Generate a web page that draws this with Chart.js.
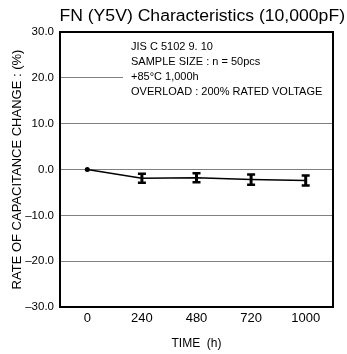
<!DOCTYPE html>
<html>
<head>
<meta charset="utf-8">
<script src="https://cdn.jsdelivr.net/npm/chart.js@4/dist/chart.umd.min.js"></script>
<style>
html,body{margin:0;padding:0;background:#fff;}
#wrap{width:347px;height:354px;position:relative;}
</style>
</head>
<body>
<div id="wrap"><canvas id="c"></canvas></div>
<script>
const categories = ['0', '240', '480', '720', '1000'];
const values = [0, -1.9, -1.8, -2.2, -2.4];
const errors = [0, 1.0, 1.0, 1.1, 1.1];
const yTicks = [-30, -20, -10, 0, 10, 20, 30];
const titleText = 'FN (Y5V) Characteristics (10,000pF)';
const noteLines = ['JIS C 5102 9. 10', 'SAMPLE SIZE : n = 50pcs', '+85\u00B0C 1,000h', 'OVERLOAD : 200% RATED VOLTAGE'];
const FONT = '"Liberation Sans", Arial, sans-serif';

const boxPlugin = {
  id: 'boxPlugin',
  afterDraw(chart) {
    const ctx = chart.ctx;
    ctx.save();
    ctx.fillStyle = '#000';
    ctx.font = '16px ' + FONT;
    ctx.textBaseline = 'alphabetic';
    ctx.textAlign = 'right';
    ctx.translate(345, 21);
    ctx.scale(1.1, 1);
    ctx.fillText(titleText, 0, 0);
    ctx.restore();
  },
  beforeDatasetsDraw(chart) {
    const ctx = chart.ctx, a = chart.chartArea;
    ctx.save();
    ctx.fillStyle = '#fff';
    ctx.fillRect(123, a.top + 1, a.right - 124, 78);
    ctx.fillStyle = '#000';
    ctx.font = '11px ' + FONT;
    ctx.textBaseline = 'alphabetic';
    noteLines.forEach((t, i) => ctx.fillText(t, 131, 49.5 + i * 15.2));
    ctx.strokeStyle = '#000';
    ctx.lineWidth = 2;
    ctx.strokeRect(a.left, a.top, a.right - a.left, a.bottom - a.top);
    ctx.restore();
  },
  afterDatasetsDraw(chart) {
    const ctx = chart.ctx;
    const xs = chart.scales.x, ys = chart.scales.y;
    ctx.save();
    ctx.strokeStyle = '#000';
    values.forEach((v, i) => {
      const e = errors[i];
      if (!e) return;
      const x = xs.getPixelForValue(i);
      const y1 = ys.getPixelForValue(v + e);
      const y2 = ys.getPixelForValue(v - e);
      ctx.lineWidth = 3;
      ctx.beginPath(); ctx.moveTo(x, y1); ctx.lineTo(x, y2); ctx.stroke();
      ctx.lineWidth = 2.5;
      ctx.beginPath();
      ctx.moveTo(x - 4, y1); ctx.lineTo(x + 4, y1);
      ctx.moveTo(x - 4, y2); ctx.lineTo(x + 4, y2);
      ctx.stroke();
    });
    ctx.restore();
  }
};

new Chart(document.getElementById('c'), {
  type: 'line',
  data: {
    labels: categories,
    datasets: [{
      data: values,
      borderColor: '#000',
      borderWidth: 1.5,
      backgroundColor: '#000',
      pointRadius: values.map((v, i) => errors[i] ? 0 : 2.5),
      pointBackgroundColor: '#000',
      pointBorderWidth: 0,
      tension: 0
    }]
  },
  options: {
    responsive: true,
    maintainAspectRatio: false,
    animation: false,
    layout: { padding: { left: 0, right: 14, top: 32, bottom: 0 } },
    plugins: {
      legend: { display: false },
      tooltip: { enabled: false },
      title: { display: false }
    },
    scales: {
      x: {
        type: 'category',
        offset: true,
        grid: { display: false, drawTicks: false },
        border: { display: false },
        ticks: { color: '#000', font: { family: FONT, size: 13 }, padding: 4, maxRotation: 0 },
        title: { display: true, text: 'TIME  (h)', color: '#000', font: { family: FONT, size: 12 }, padding: { top: 0, bottom: 3 } },
        afterFit(s) { s.height = 47; }
      },
      y: {
        min: -30, max: 30,
        afterBuildTicks(s) { s.ticks = yTicks.map(v => ({ value: v })); },
        grid: { color: '#808080', lineWidth: 1, drawTicks: false },
        border: { display: false },
        ticks: {
          color: '#000', font: { family: FONT, size: 11.5 }, padding: 6,
          callback: v => (v < 0 ? '\u2013' : '') + Math.abs(v).toFixed(1)
        },
        title: { display: true, text: 'RATE OF CAPACITANCE CHANGE : (%)', color: '#000', font: { family: FONT, size: 13 }, padding: { top: 10, bottom: 0 } },
        afterFit(s) { s.width = 60; }
      }
    }
  },
  plugins: [boxPlugin]
});
</script>
</body>
</html>
